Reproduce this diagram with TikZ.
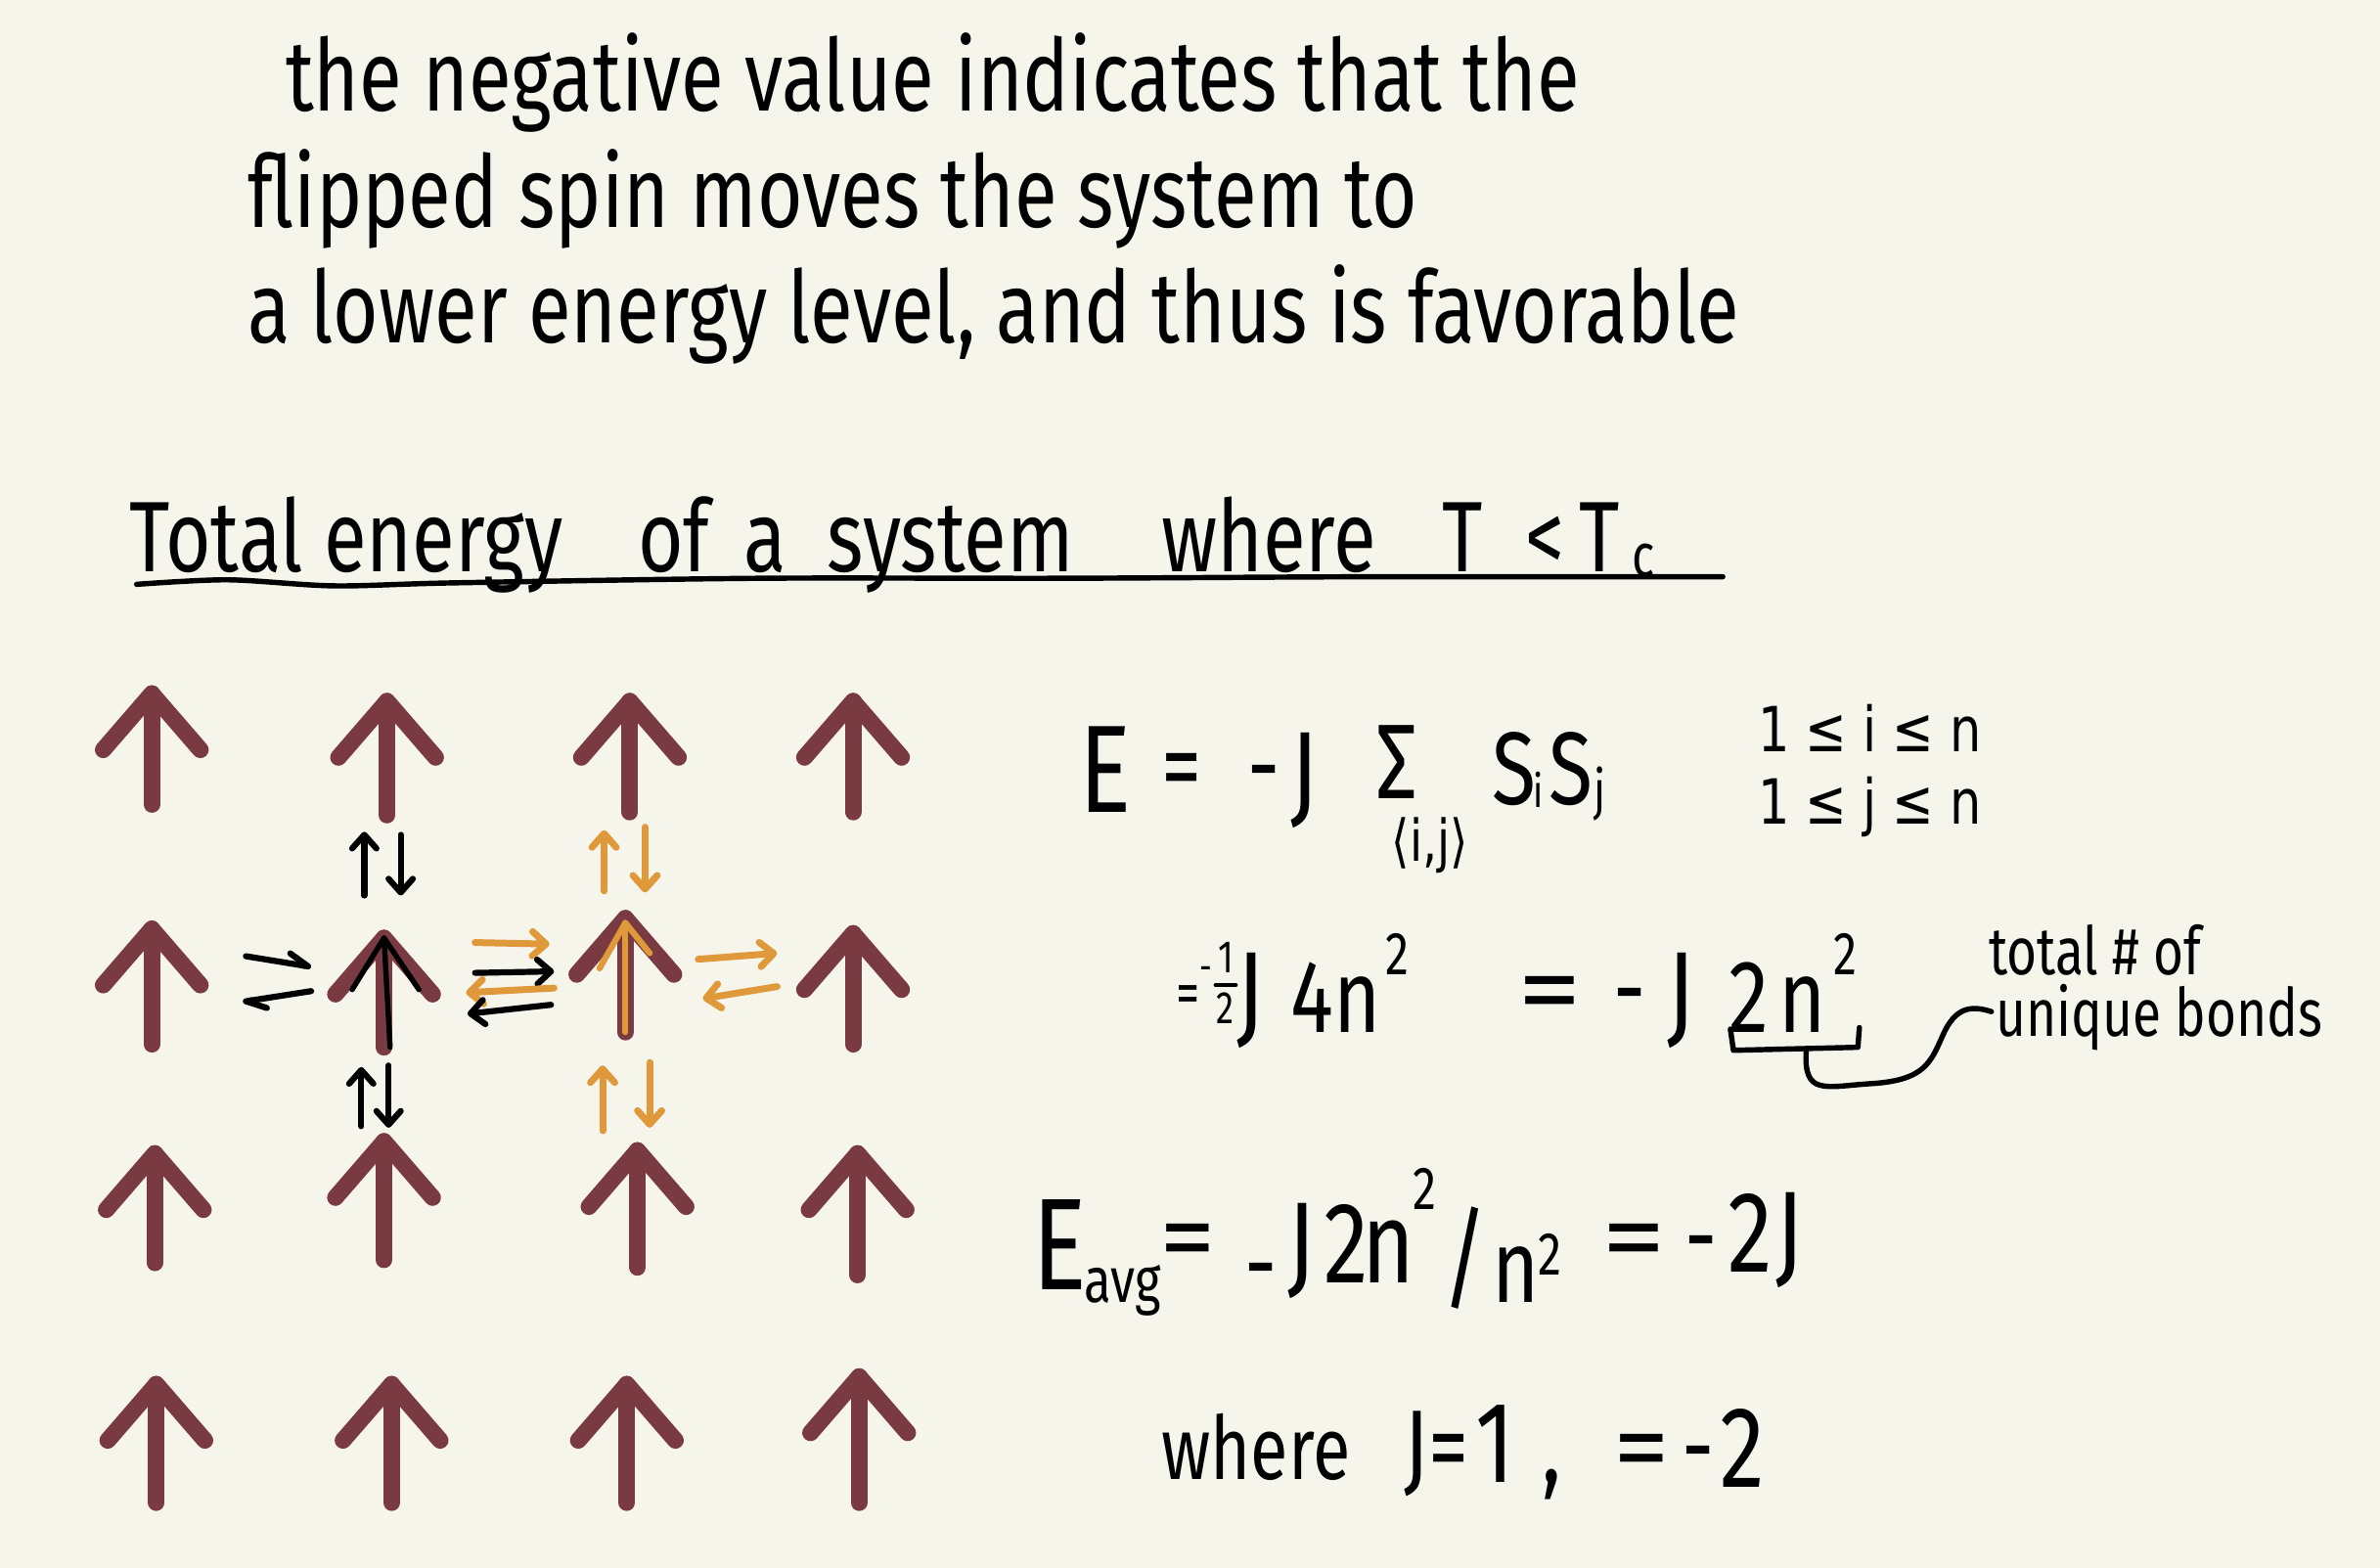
\documentclass[tikz,border=0pt]{standalone}
\usepackage{fontspec}
\setmainfont{Fira Sans}[FakeStretch=0.78]
\newfontfamily\symf{DejaVu Sans}[FakeStretch=0.8]
\usetikzlibrary{arrows.meta}
\definecolor{bg}{HTML}{F6F5EB}
\definecolor{spin}{HTML}{7A3A42}
\definecolor{gold}{HTML}{E0993A}
\begin{document}
\begin{tikzpicture}[x=1pt,y=-1pt,
  txt/.style={anchor=base west, inner sep=0pt, font=\fontsize{66}{70}\selectfont},
  eq/.style={anchor=base west, inner sep=0pt, font=\fontsize{68}{72}\selectfont},
  eqb/.style={anchor=base west, inner sep=0pt, font=\fontsize{76}{80}\selectfont},
  eqs/.style={anchor=base west, inner sep=0pt, font=\fontsize{40}{44}\selectfont},
  spinline/.style={draw=spin, line width=11pt, line cap=round, line join=round},
  blk/.style={draw=black, line width=4pt, line cap=round, line join=round},
  org/.style={draw=gold, line width=4.5pt, line cap=round, line join=round},
  hd/.style={-{Straight Barb[length=9pt,width=16pt,line cap=round,line join=round]}},
  hdl/.style={-{Straight Barb[length=13pt,width=13pt,left,line cap=round,line join=round]}},
]
\fill[bg] (0,0) rectangle (1568,1033);
\useasboundingbox (0,0) rectangle (1568,1033);

% top text
\node[txt] (l1) at (188,73) {the negative value indicates that the};
\node[txt] (l2) at (163,150) {flipped spin moves the system to};
\node[txt] (l3) at (163,226) {a lower energy level, and thus is favorable};

% heading
\node[txt] (h1) at (85,377) {Total energy};
\node[txt] (h2) at (420,377) {of};
\node[txt] (h3) at (490,377) {a};
\node[txt] (h4) at (545,377) {system};
\node[txt] (h5) at (765,377) {where};
\node[txt] (h6) at (950,377) {T};
\node[txt] (h7) at (1005,377) {<};
\node[txt] (h8) at (1040,377) {T};
\node[eqs] (h9) at (1075,380) {c};
\draw[line width=3.5pt, line cap=round] plot[smooth] coordinates
  {(90,385) (150,382) (220,386) (300,384) (500,381) (700,381) (900,380) (1135,380)};

% spins
\foreach \x/\t/\b [count=\k] in {
  100/457/530, 255/462/537, 415/462/535, 562/462/535,
  100/612/688, 253/618/690, 412/605/680, 562/615/688,
  102/760/832, 253/752/830, 420/758/835, 565/760/840,
  103/912/990, 258/912/990, 413/912/990, 566/907/990} {
  \coordinate (s\k) at (\x,\t);
  \draw[spinline] (\x,\b) -- (s\k);
  \draw[spinline] (\x-32,\t+37) -- (s\k) -- (\x+32,\t+37);
}

% overlay arrows on the flipped spins
\draw[blk, line width=3.5pt] (257,690) -- (s6);
\draw[blk, line width=3.5pt] (232,652) -- (s6) -- (276,652);
\draw[org, line width=4pt] (412,680) -- (412,608);
\draw[org, line width=4pt] (395,638) -- (412,608) -- (428,628);

% vertical pairs
\draw[blk, hd] (240,590) -- (240,548);
\draw[blk, hd] (264,550) -- (264,590);
\draw[blk, hd] (238,742) -- (238,703);
\draw[blk, hd] (256,702) -- (256,743);
\draw[org, hd] (398,587) -- (398,547);
\draw[org, hd] (425,545) -- (425,588);
\draw[org, hd] (397,745) -- (397,702);
\draw[org, hd] (428,700) -- (428,743);

% horizontal pairs
\draw[blk, hdl] (162,630) -- (205,637);
\draw[blk, hdl] (205,653) -- (160,660);
\draw[org, hd] (313,621) -- (362,622);
\draw[blk, hd] (313,641) -- (365,640);
\draw[org, hd] (365,651) -- (307,654);
\draw[blk, hd] (363,662) -- (308,668);
\draw[org, hd] (460,632) -- (512,628);
\draw[org, hd] (512,650) -- (463,658);

% equation 1
\node[eq, font=\fontsize{82}{86}\selectfont] (E1) at (711,535) {E};
\node[eq] (eq1) at (765,528) {=};
\node[eq] (m1) at (822,528) {-};
\node[eqb] (J1) at (850,535) {J};
\node[anchor=base, inner sep=0pt, font=\fontsize{70}{74}\selectfont] (sig) at (920,526) {Σ};
\node[eq] (S1) at (983,530) {S};
\node[eqs, font=\fontsize{30}{34}\selectfont] (si) at (1010,532) {i};
\node[eq] (S2) at (1020,530) {S};
\node[eqs, font=\fontsize{36}{40}\selectfont] (sj) at (1050,533) {j};
\node[inner sep=0pt, font=\symf\fontsize{38}{42}\selectfont] (ij) at (942,557) {⟨i,j⟩};
\node[eqs, font=\symf\fontsize{41}{45}\selectfont] (c1) at (1158,495) {1 ≤ i ≤ n};
\node[eqs, font=\symf\fontsize{41}{45}\selectfont] (c2) at (1158,543) {1 ≤ j ≤ n};

% equation 2
\node[eqs] (eqA) at (775,668) {=};
\node[eqs, font=\fontsize{26}{30}\selectfont] (mA) at (790,646) {-};
\node[inner sep=0pt, font=\fontsize{30}{34}\selectfont] (one) at (808,631) {1};
\draw[line width=3pt, line cap=round] (801,649) -- (814,649);
\node[inner sep=0pt, font=\fontsize{30}{34}\selectfont] (two) at (807,664) {2};
\node[eqb] (J2) at (815,680) {J};
\node[eq] (fn) at (850,680) {4n};
\node[eqs] (sq1) at (913,642) {2};
\node[eq] (eqB) at (1000,675) {\scalebox{1.6}[1]{=}};
\node[eq] (mB) at (1063,675) {-};
\node[eqb] (J3) at (1098,680) {J};
\node[eq] (t2) at (1139,680) {2};
\node[eq] (tn) at (1172,680) {n};
\node[eqs] (sq2) at (1208,642) {2};
\coordinate (bm) at (1190,692);
\draw[line width=3.5pt, line cap=round, line join=round] (1140,678) -- (1142,692) -- (1224,690) -- (1225,677);
\node[eqs, font=\fontsize{44}{48}\selectfont] (tot) at (1310,642) {total \# of};
\node[eqs, font=\fontsize{44}{48}\selectfont] (uniq) at (1315,683) {unique bonds};
\draw[line width=3.5pt, line cap=round] (bm) .. controls (1188,722) and (1202,716) .. (1232,714)
  .. controls (1268,712) and (1272,700) .. (1280,682) .. controls (1288,664) and (1298,662) .. ([xshift=-3pt,yshift=4pt]uniq.west);

% equation 3
\node[eq, font=\fontsize{86}{90}\selectfont] (E3) at (680,850) {E};
\node[eqs, font=\fontsize{42}{46}\selectfont] (avg) at (714,858) {avg};
\node[eq] (eqC) at (764,838) {\scalebox{1.4}[1]{=}};
\node[eq] (mC) at (820,856) {-};
\node[eqb] (J5) at (848,845) {J};
\node[eqb] (t3) at (872,845) {2};
\node[eqb] (n3) at (897,845) {n};
\node[eqs] (sq3) at (931,797) {2};
\node[eq, font=\fontsize{74}{78}\selectfont] (sl) at (950,855) {/};
\node[eq] (nd) at (983,858) {n};
\node[eqs] (sq4) at (1013,840) {2};
\node[eq] (eqD) at (1055,838) {\scalebox{1.6}[1]{=}};
\node[eq] (mD) at (1110,838) {-};
\node[eqb] (t4) at (1138,838) {2};
\node[eqb] (J6) at (1170,838) {J};

% equation 4
\node[txt, font=\fontsize{58}{62}\selectfont] (wh) at (765,975) {where};
\node[eq] (J7) at (925,977) {J=};
\node[eqb] (o4) at (972,977) {1};
\node[eq] (cm) at (1016,977) {,};
\node[eq] (eqE) at (1063,977) {\scalebox{1.4}[1]{=}};
\node[eq] (mE) at (1108,977) {-};
\node[eqb] (t5) at (1133,980) {2};
\end{tikzpicture}
\end{document}
